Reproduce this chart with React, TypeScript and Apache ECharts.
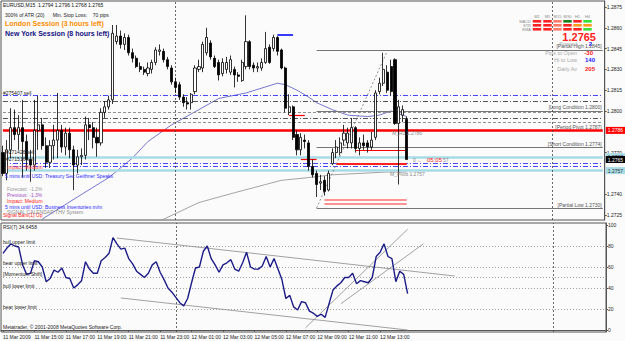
import React, { useEffect, useRef } from "react";
import * as echarts from "echarts";

const FONT = "'Liberation Sans', Arial, sans-serif";

// ---- data ----
const opens = [1.2770,1.2755,1.2772,1.2788,1.2783,1.2788,1.2778,1.2765,1.2761,1.2786,
1.2790,1.2775,1.2763,1.2775,1.2779,1.2786,1.2774,1.2784,1.2772,1.2761,
1.2767,1.2768,1.2790,1.2788,1.2781,1.2777,1.2799,1.2803,1.2808,1.2850,
1.2854,1.2848,1.2853,1.2842,1.2838,1.2832,1.2830,1.2827,1.2830,1.2835,
1.2843,1.2843,1.2837,1.2831,1.2821,1.2819,1.2810,1.2806,1.2806,1.2814,
1.2830,1.2831,1.2842,1.2849,1.2838,1.2835,1.2827,1.2830,1.2828,1.2830,
1.2826,1.2822,1.2832,1.2850,1.2833,1.2831,1.2831,1.2835,1.2846,1.2845,
1.2853,1.2844,1.2831,1.2799,1.2803,1.2783,1.2772,1.2779,1.2777,1.2760,
1.2755,1.2748,1.2750,1.2743,1.2762,1.2770,1.2770,1.2779,1.2777,1.2777,
1.2788,1.2773,1.2777,1.2777,1.2774,1.2781,1.2814,1.2820,1.2828,1.2832,
1.2837,1.2791,1.2797,1.2794];
const closes = [1.2755,1.2772,1.2788,1.2783,1.2788,1.2778,1.2765,1.2761,1.2786,1.2790,
1.2775,1.2763,1.2775,1.2779,1.2786,1.2774,1.2784,1.2772,1.2761,1.2767,
1.2768,1.2790,1.2788,1.2781,1.2777,1.2799,1.2803,1.2808,1.2856,1.2854,
1.2848,1.2853,1.2842,1.2838,1.2832,1.2830,1.2828,1.2831,1.2835,1.2844,
1.2844,1.2837,1.2832,1.2821,1.2817,1.2810,1.2806,1.2805,1.2812,1.2831,
1.2832,1.2848,1.2853,1.2839,1.2832,1.2826,1.2835,1.2835,1.2837,1.2826,
1.2825,1.2835,1.2850,1.2832,1.2831,1.2832,1.2835,1.2845,1.2835,1.2853,
1.2843,1.2831,1.2802,1.2803,1.2781,1.2772,1.2781,1.2778,1.2760,1.2754,
1.2747,1.2749,1.2742,1.2755,1.2770,1.2774,1.2777,1.2784,1.2784,1.2788,
1.2773,1.2777,1.2775,1.2774,1.2779,1.2813,1.2820,1.2830,1.2815,1.2814,
1.2791,1.2803,1.2801,1.2765];
const highs = [1.2775,1.2779,1.2802,1.2801,1.2797,1.2808,1.2783,1.2772,1.2808,1.2811,
1.2795,1.2781,1.2779,1.2790,1.2813,1.2790,1.2788,1.2788,1.2775,1.2772,
1.2773,1.2796,1.2795,1.2792,1.2788,1.2802,1.2807,1.2811,1.2862,1.2862,
1.2858,1.2856,1.2855,1.2845,1.2840,1.2835,1.2832,1.2835,1.2837,1.2846,
1.2848,1.2845,1.2839,1.2833,1.2824,1.2821,1.2812,1.2810,1.2813,1.2833,
1.2837,1.2850,1.2860,1.2851,1.2840,1.2837,1.2838,1.2839,1.2840,1.2832,
1.2828,1.2837,1.2869,1.2851,1.2835,1.2835,1.2838,1.2857,1.2848,1.2855,
1.2854,1.2845,1.2832,1.2812,1.2804,1.2786,1.2784,1.2783,1.2779,1.2765,
1.2757,1.2754,1.2753,1.2757,1.2773,1.2779,1.2781,1.2790,1.2788,1.2795,
1.2789,1.2781,1.2783,1.2779,1.2785,1.2815,1.2824,1.2842,1.2833,1.2837,
1.2838,1.2808,1.2804,1.2796];
const lows = [1.2753,1.2750,1.2766,1.2779,1.2772,1.2752,1.2757,1.2749,1.2757,1.2772,
1.2772,1.2759,1.2759,1.2765,1.2766,1.2770,1.2768,1.2766,1.2743,1.2755,
1.2761,1.2765,1.2779,1.2773,1.2767,1.2775,1.2795,1.2801,1.2805,1.2848,
1.2845,1.2844,1.2840,1.2835,1.2831,1.2828,1.2826,1.2825,1.2827,1.2833,
1.2840,1.2835,1.2830,1.2819,1.2813,1.2808,1.2803,1.2801,1.2801,1.2812,
1.2828,1.2828,1.2840,1.2837,1.2831,1.2822,1.2825,1.2827,1.2826,1.2817,
1.2821,1.2821,1.2830,1.2830,1.2828,1.2828,1.2829,1.2834,1.2834,1.2843,
1.2840,1.2830,1.2799,1.2797,1.2779,1.2768,1.2768,1.2773,1.2757,1.2752,
1.2738,1.2743,1.2739,1.2742,1.2761,1.2766,1.2768,1.2775,1.2773,1.2773,
1.2770,1.2768,1.2772,1.2770,1.2772,1.2779,1.2812,1.2818,1.2813,1.2811,
1.2790,1.2747,1.2792,1.2765];

const rsi7 = [73,78,82,80,79,62,53,54,66,65,
60,46,49,57,55,59,50,49,40,43,
47,65,58,54,54,66,69,73,88,82,
77,78,68,63,56,53,50,54,62,65,
55,48,40,36,31,26,23,30,45,59,
60,75,80,68,62,55,62,64,67,58,
56,64,74,60,58,58,61,70,60,68,
58,48,30,33,22,19,27,26,18,16,
13,15,12,25,38,42,45,50,50,54,
44,47,46,45,50,70,74,82,70,68,
46,56,53,34.65];

// moving averages: [bar index, price] points
const maBlue = [[10,1.2722],[19,1.2738],[27,1.2752],[33,1.2766],[37,1.2778],[43,1.2790],[50,1.2801],[55,1.2809],[62,1.2813],[70,1.2820],[72,1.2819],[75,1.2815],[78,1.2810],[80,1.2806],[84,1.2801],[88,1.2797],[93,1.2796],[96,1.2797],[99,1.2800],[103,1.2796]];
const maGrey = [[39,1.2719],[41,1.2722],[50,1.2734],[59,1.2741],[67,1.2747],[71,1.2750],[78,1.2752],[84,1.2754],[98,1.2756],[103,1.2756]];

const priceTicks = [1.2725,1.2740,1.2770,1.2800,1.2815,1.2830,1.2845,1.2860,1.2875];
const rsiTicks = [0,20,40,60,80,100];
const timeLabels = ["11 Mar 2009","11 Mar 15:00","11 Mar 17:00","11 Mar 19:00","11 Mar 21:00","11 Mar 23:00","12 Mar 01:00","12 Mar 03:00","12 Mar 05:00","12 Mar 07:00","12 Mar 09:00","12 Mar 11:00","12 Mar 13:00"];

const rsiLevels = [80,60,50,40,20];
const rsiLevelNames = ["bull upper limit","bear upper limit","[Momentum Shift]","bull lower limit","bear lower limit"];

const SLOTS = 154;
const cats = Array.from({ length: SLOTS }, (_, i) => String(i));
const LAST = SLOTS - 1;

const DD = [5, 2, 1, 2];

function mkH(v: number, color: string, width: number, type: any, label?: any) {
  return seg(0, LAST, v, color, width, type, label);
}
function seg(x1: number, x2: number, v: number, color: string, width: number, type: any = "solid", label?: any) {
  return [
    { coord: [x1, v], lineStyle: { color, width, type }, label: label || { show: false } },
    { coord: [x2, v] },
  ];
}
function diag(x1: number, v1: number, x2: number, v2: number, color: string, type: any = "solid") {
  return [
    { coord: [x1, v1], lineStyle: { color, width: 0.8, type }, label: { show: false } },
    { coord: [x2, v2] },
  ];
}
const axisBox = (txt: string, bg: string, fg: string) => ({
  show: true, position: "end", formatter: txt, distance: 3, backgroundColor: bg, color: fg,
  fontSize: 5, fontFamily: FONT, padding: [1, 2, 1, 2],
});
const endTxt = (txt: string) => ({
  show: true, position: "insideEndTop", formatter: txt, color: "#555", fontSize: 5, fontFamily: FONT, distance: 1,
});

function T(x: number, y: number, text: string, size: number, fill: string, o: any = {}) {
  return {
    type: "text", x, y, silent: true, z: 100,
    style: {
      text, fill, font: `${o.bold ? "bold " : ""}${size}px ${FONT}`,
      textAlign: o.align || "left", textVerticalAlign: "middle",
    },
  };
}

const sigCols = ["M1", "M5", "M15", "M30", "H1", "H4"];
const sigRows = ["MACD", "STR", "EMA"];
const sigColors = [
  ["#ff2222", "#ff2222", "#ff7a6a", "#1b7d1b", "#ff2222", "#33e033"],
  ["#ff2222", "#ff2222", "#ff7a6a", "#ff2222", "#ff9a1a", "#ff9a1a"],
  ["#ff2222", "#ff2222", "#ff7a6a", "#ff2222", "#ff2222", "#33e033"],
];

function buildGraphic() {
  const g: any[] = [];
  g.push(T(3, 5, "EURUSD,M15  1.2794 1.2796 1.2768 1.2765", 5, "#111"));
  g.push(T(5, 15, "300% of ATR (20)      Min. Stop Loss:    70 pips", 5, "#222"));
  g.push(T(5, 23.5, "London Session (3 hours left)", 7, "#ff8c00", { bold: true }));
  g.push(T(5, 33.5, "New York Session (8 hours left)", 7, "#12127e", { bold: true }));
  g.push(T(3, 93, "#275407 sell", 5, "#222"));
  g.push(T(6, 152, "#271426 sell", 5, "#222"));
  g.push(T(6, 159, "#271516 sell", 5, "#222"));
  g.push(T(7, 167, "Impact: Medium", 5, "#ff4040"));
  g.push(T(5, 176, "5 mins until USD: Treasury Sec Geithner Speaks", 5, "#2b2bff"));
  g.push(T(7, 189, "Forecast: -1.2%", 5, "#999"));
  g.push(T(7, 195, "Previous: -1.3%", 5, "#a050c0"));
  g.push(T(7, 201, "Impact: Medium", 5, "#ff2020"));
  g.push(T(5, 207, "5 mins until USD: Business Inventories m/m", 5, "#2b2bff"));
  g.push(T(7, 212, "SIGNAL CALENDAR THV System", 5, "#888"));
  g.push(T(3, 214.5, "Signal Bars(1) Up", 5, "#ff2020"));
  // signal matrix
  const cx = [537, 547.5, 557.5, 567.5, 577.5, 587.5];
  sigCols.forEach((c, i) => g.push(T(cx[i], 16, c, 4, "#888", { align: "center" })));
  sigRows.forEach((r, j) => {
    g.push(T(531, 21 + j * 4, r, 4, "#888", { align: "right" }));
    cx.forEach((x, i) => g.push({
      type: "rect", silent: true, z: 100,
      shape: { x: x - 4.2, y: 20 + j * 4, width: 8.4, height: 2.6 },
      style: { fill: sigColors[j][i] },
    }));
  });
  g.push(T(596, 37, "1.2765", 11, "#ff2020", { bold: true, align: "right" }));
  g.push(T(577, 44, "Spread", 5.5, "#aaa", { align: "right" }));
  g.push(T(592, 44, "2", 6, "#2020ff", { bold: true, align: "right" }));
  g.push(T(577, 52.5, "Pips to Open", 5.5, "#aaa", { align: "right" }));
  g.push(T(593, 52.5, "-30", 6, "#ff2020", { bold: true, align: "right" }));
  g.push(T(577, 60, "Hi to Low", 5.5, "#aaa", { align: "right" }));
  g.push(T(595, 60, "140", 6, "#2020ff", { bold: true, align: "right" }));
  g.push(T(577, 68.5, "Daily Av", 5.5, "#aaa", { align: "right" }));
  g.push(T(595, 68.5, "205", 6, "#ff2020", { bold: true, align: "right" }));
  // chart notes
  g.push(T(392, 133, "M_R1 1.2786", 5, "#888"));
  g.push(T(390, 174, "M_Pivot 1.2757", 5, "#888"));
  g.push(T(413, 160, "0 \u2190", 5, "#888"));
  g.push(T(427, 160, "05:05", 6, "#ff2020"));
  g.push(T(443, 160, "57", 5, "#888"));
  // RSI panel texts
  g.push(T(3, 227, "RSI(7) 34.6458", 5, "#222"));
  const ly = [242, 263, 274, 285.5, 307];
  rsiLevelNames.forEach((n, i) => g.push(T(3, ly[i], n, 5, "#222")));
  g.push(T(3, 327, "Metatrader, \u00a9 2001-2008 MetaQuotes Software Corp.", 5, "#222"));
  return g;
}

function buildOption() {
  const candle = opens.map((o, i) => [o, closes[i], lows[i], highs[i]]);
  const tickShow = (i: number) => i % 8 === 0 && i / 8 < timeLabels.length;
  const vline = (i: number, v1: number, v2: number) => [
    { coord: [i, v1], lineStyle: { color: "#444", width: 0.8, type: [2, 2] }, label: { show: false } },
    { coord: [i, v2] },
  ];
  return {
    animation: false,
    backgroundColor: "#fbfbfb",
    textStyle: { fontFamily: FONT },
    grid: [
      { left: 1, top: 1, width: 605, height: 219, show: true, borderColor: "#555", borderWidth: 1 },
      { left: 1, top: 223, width: 605, height: 109, show: true, borderColor: "#555", borderWidth: 1 },
    ],
    xAxis: [
      { type: "category", gridIndex: 0, data: cats, boundaryGap: true, axisLine: { show: false }, axisTick: { show: false }, axisLabel: { show: false }, splitLine: { show: false } },
      {
        type: "category", gridIndex: 1, data: cats, boundaryGap: true,
        axisLine: { show: true, lineStyle: { color: "#555" } },
        axisTick: { show: true, interval: tickShow, alignWithLabel: true, length: 2, lineStyle: { color: "#555" } },
        axisLabel: {
          show: true, interval: tickShow, align: "left", margin: 2, fontSize: 5, color: "#222", fontFamily: FONT,
          formatter: (_v: string, i: number) => timeLabels[i / 8] || "",
        },
        splitLine: { show: false },
      },
    ],
    yAxis: [
      {
        type: "value", gridIndex: 0, position: "right", min: 1.27214, max: 1.28793,
        axisLine: { show: true, lineStyle: { color: "#555" } },
        axisTick: { show: true, customValues: priceTicks, length: 2, lineStyle: { color: "#555" } },
        axisLabel: { show: true, customValues: priceTicks, formatter: (v: number) => v.toFixed(4), fontSize: 5, color: "#222", margin: 2, fontFamily: FONT },
        splitLine: { show: false },
      },
      {
        type: "value", gridIndex: 1, position: "right", min: -1.9, max: 101.9,
        axisLine: { show: true, lineStyle: { color: "#555" } },
        axisTick: { show: true, customValues: rsiTicks, length: 2, lineStyle: { color: "#555" } },
        axisLabel: { show: true, customValues: rsiTicks, fontSize: 5, color: "#222", margin: 2, fontFamily: FONT },
        splitLine: { show: false },
      },
    ],
    series: [
      {
        type: "line", xAxisIndex: 0, yAxisIndex: 0, data: maGrey, showSymbol: false, symbol: "none",
        lineStyle: { color: "#9a9a9a", width: 0.9 }, silent: true, z: 1,
        markLine: {
          symbol: ["none", "none"], silent: true, animation: false, z: 2,
          data: [
            mkH(1.2811, "#4646ff", 1, DD),
            mkH(1.2807, "#555555", 1, DD),
            mkH(1.2799, "#909090", 1, [3, 2]),
            mkH(1.2795, "#555555", 1, DD),
            mkH(1.2792, "#909090", 1, [3, 2]),
            mkH(1.2786, "#ff0000", 2.5, "solid", endTxt("[Period Pivot 1.2787]")),
            mkH(1.2786, "rgba(0,0,0,0)", 0.1, "solid", axisBox("1.2786", "#ff0000", "#ffffff")),
            mkH(1.2767, "#a8dbe6", 2.5, "solid", axisBox("1.2767", "#a8dbe6", "#333333")),
            mkH(1.2762, "#4646ff", 1, DD),
            mkH(1.2760, "#4646ff", 1, DD),
            mkH(1.2757, "#a8dbe6", 2.5, "solid", axisBox("1.2757", "#a8dbe6", "#333333")),
            mkH(1.2765, "rgba(0,0,0,0)", 0.1, "solid", axisBox("1.2765", "#000000", "#ffffff")),
            seg(80, LAST, 1.2844, "#777777", 1, "solid", endTxt("[Partial High 1.2845]")),
            seg(80, LAST, 1.2800, "#777777", 1, "solid", endTxt("[Long Condition 1.2800]")),
            seg(80, LAST, 1.2774, "#777777", 1, "solid", endTxt("[Short Condition 1.2774]")),
            seg(80, LAST, 1.2730, "#777777", 1, "solid", endTxt("[Partial Low 1.2730]")),
            seg(73, 77, 1.2797, "#ff0000", 1.2),
            seg(76, 80, 1.2765, "#ff0000", 1.2),
            seg(90, 103, 1.2772, "#ff0000", 1.2),
            seg(85, 103, 1.2762, "#ff2020", 2),
            seg(82, 103, 1.2736, "#ff7070", 1.6),
            seg(82, 103, 1.2733, "#ff7070", 1.6),
            seg(70, 74, 1.2855, "#3a3aff", 2),
            diag(80, 1.2730, 98, 1.2843, "#777777", [2, 2]),
            vline(44, 1.27214, 1.28793),
            vline(140, 1.27214, 1.28793),
          ],
        },
      },
      {
        type: "line", xAxisIndex: 0, yAxisIndex: 0, data: maBlue, showSymbol: false, symbol: "none",
        lineStyle: { color: "#6868c8", width: 0.9 }, silent: true, z: 1,
      },
      {
        type: "candlestick", xAxisIndex: 0, yAxisIndex: 0, data: candle, barWidth: 2.6, silent: true, z: 3,
        itemStyle: { color: "#ffffff", color0: "#000000", borderColor: "#000000", borderColor0: "#000000", borderWidth: 0.8 },
      },
      {
        type: "line", xAxisIndex: 1, yAxisIndex: 1, data: rsi7, showSymbol: false, symbol: "none",
        lineStyle: { color: "#1c1c88", width: 1.4 }, silent: true, z: 3,
        markLine: {
          symbol: ["none", "none"], silent: true, animation: false, z: 2,
          data: [
            ...rsiLevels.map((v) => [
              { coord: [0, v], lineStyle: { color: "#888", width: 0.8, type: [1, 2] }, label: { show: false } },
              { coord: [LAST, v] },
            ]),
            diag(29, 87.6, 115, 51.4, "#8a8a8a"),
            diag(30, 30.5, 103, 0, "#8a8a8a"),
            diag(77, 2, 103, 96, "#8a8a8a"),
            diag(86, 25, 107, 82, "#8a8a8a"),
            vline(44, -1.9, 101.9),
            vline(140, -1.9, 101.9),
          ],
        },
      },
    ],
    graphic: buildGraphic(),
  };
}

export default function App() {
  const ref = useRef<HTMLDivElement>(null);
  useEffect(() => {
    if (!ref.current) return;
    const chart = echarts.init(ref.current, null, { renderer: "svg" });
    chart.setOption(buildOption() as any);
    return () => chart.dispose();
  }, []);
  return <div ref={ref} style={{ position: "fixed", left: 0, top: 0, width: 625, height: 341 }} />;
}
